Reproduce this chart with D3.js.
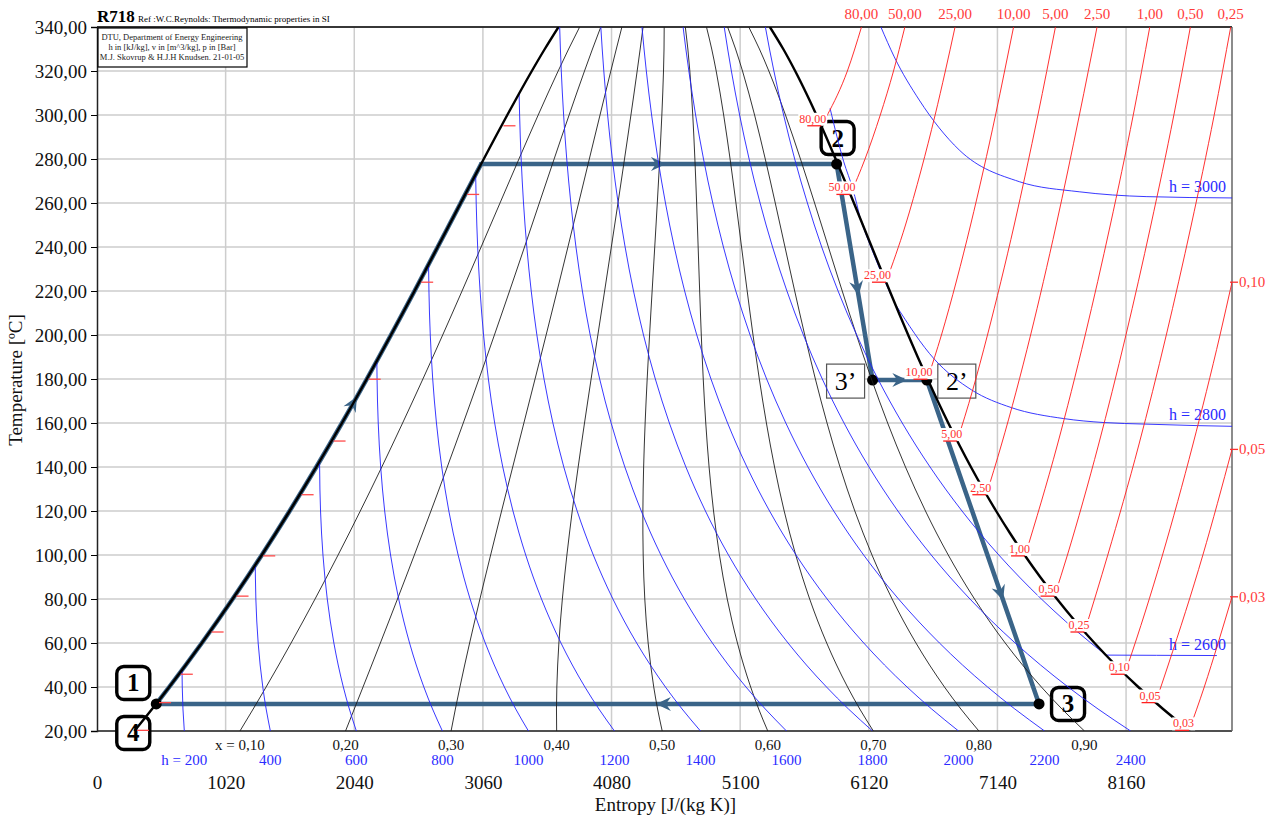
<!DOCTYPE html>
<html>
<head>
<meta charset="utf-8">
<script src="https://cdn.jsdelivr.net/npm/d3@7"></script>
<style>
  body { margin: 0; background: #fff; }
  text { font-family: "Liberation Serif", "Times New Roman", serif; }
</style>
</head>
<body>
<div id="wrapper"></div>
<script>
// Saturation table for water (T in C, s in J/(kg K), h in kJ/kg)
const satT  = [20, 30, 40, 50, 60, 70, 80, 90, 100, 110, 120, 130, 140, 150, 160, 170, 180,
               190, 200, 210, 220, 230, 240, 250, 260, 270, 280, 290, 300, 310, 320, 330, 340]
const satSf = [296.6, 436.9, 572.5, 703.8, 831.2, 954.9, 1075.3, 1192.5, 1306.9, 1418.5, 1527.6,
               1634.4, 1739.1, 1841.8, 1942.7, 2041.9, 2139.6, 2235.9, 2330.9, 2424.8, 2517.8,
               2609.9, 2701.5, 2792.7, 2883.8, 2975.1, 3066.8, 3159.4, 3253.4, 3349.3, 3448.0,
               3550.7, 3659.4]
const satSg = [8667.2, 8453.3, 8257.0, 8076.3, 7909.6, 7755.3, 7612.2, 7479.1, 7354.9, 7238.7,
               7129.6, 7026.9, 6929.9, 6837.9, 6750.2, 6666.3, 6585.7, 6507.9, 6432.3, 6358.5,
               6286.1, 6214.6, 6143.7, 6073.0, 6001.9, 5930.1, 5857.1, 5782.1, 5704.5, 5623.0,
               5536.2, 5441.7, 5335.7]
const satHf = [83.96, 125.79, 167.57, 209.33, 251.13, 292.98, 334.91, 376.92, 419.04, 461.30,
               503.71, 546.31, 589.13, 632.20, 675.55, 719.21, 763.22, 807.62, 852.45, 897.76,
               943.62, 990.12, 1037.3, 1085.4, 1134.4, 1184.5, 1236.0, 1289.1, 1344.0, 1401.3,
               1461.5, 1525.3, 1594.2]
const satHg = [2538.1, 2556.3, 2574.3, 2592.1, 2609.6, 2626.8, 2643.7, 2660.1, 2676.1, 2691.5,
               2706.3, 2720.5, 2733.9, 2746.5, 2758.1, 2768.7, 2778.2, 2786.4, 2793.2, 2798.5,
               2802.1, 2804.0, 2803.8, 2801.5, 2796.6, 2789.7, 2779.6, 2766.2, 2749.0, 2727.3,
               2700.1, 2665.9, 2622.0]

// quality lines
const qualities = [0.1, 0.2, 0.3, 0.4, 0.5, 0.6, 0.7, 0.8, 0.9]
const qualityLabels = ['x = 0,10', '0,20', '0,30', '0,40', '0,50', '0,60', '0,70', '0,80', '0,90']

// constant enthalpy lines, wet region
const enthalpies = [200, 400, 600, 800, 1000, 1200, 1400, 1600, 1800, 2000, 2200, 2400, 2600, 2800]
const enthalpyLabels = ['h = 200', '400', '600', '800', '1000', '1200', '1400', '1600', '1800',
                        '2000', '2200', '2400']

// constant enthalpy lines, superheated region [s, T]
const h3000Sup = [[6216, 340], [6322, 326.4], [6520, 306.8], [6837, 284.1], [7313, 269.7],
                  [7788, 265.1], [8319, 262.9], [9000, 262.3]]
const h2800SupHigh = [[5813, 303], [5920, 279], [5995, 266], [6052, 253]]
const h2800SupLow = [[6329, 214.1], [6640, 189], [6936, 175], [7250, 167], [7666, 162],
                     [7985, 160.2], [8310, 159.5], [8726, 158.8], [9000, 158.5]]
const h2600Sup = [[8001, 54.5], [8400, 54.4], [8880, 54.3]]
const supLines = [h3000Sup, h2800SupLow, h2600Sup]
const supLabels = ['h = 3000', 'h = 2800', 'h = 2600']

// isobars [s, T], first point on the saturated vapour line
const isoP80   = [[5743, 295.1], [5791, 300], [5950, 320], [6062, 340]]
const isoP50   = [[5974, 263.9], [6090, 280], [6211, 300], [6316, 320], [6406, 340]]
const isoP25   = [[6256, 224.0], [6411, 250], [6535, 275], [6646, 300], [6727, 320], [6804, 340]]
const isoP10   = [[6585, 179.9], [6696, 200], [6817, 225], [6927, 250], [7029, 275], [7125, 300],
                  [7197, 320], [7268, 340]]
const isoP5    = [[6821, 151.8], [6944, 175], [7061, 200], [7273, 250], [7461, 300], [7600, 340]]
const isoP2_5  = [[7052, 127.4], [7171, 150], [7403, 200], [7606, 250], [7790, 300], [7930, 340]]
const isoP1    = [[7359, 99.6], [7615, 150], [7836, 200], [8035, 250], [8217, 300], [8348, 340]]
const isoP0_5  = [[7593, 81.3], [7695, 100], [7941, 150], [8159, 200], [8357, 250], [8539, 300],
                  [8670, 340]]
const isoP0_25 = [[7830, 65.0], [8015, 100], [8261, 150], [8479, 200], [8677, 250], [8859, 300],
                  [8990, 340]]
const isoP0_1  = [[8149, 45.8], [8174, 50], [8449, 100], [8689, 150], [8905, 200], [9000, 224]]
const isoP0_05 = [[8394, 32.9], [8494, 50], [8769, 100], [9000, 148]]
const isoP0_03 = [[8660, 20.3], [8780, 40], [8890, 60], [9000, 81]]
const isobars = [isoP80, isoP50, isoP25, isoP10, isoP5, isoP2_5, isoP1, isoP0_5, isoP0_25,
                 isoP0_1, isoP0_05, isoP0_03]
const pressureLabels = ['80,00', '50,00', '25,00', '10,00', '5,00', '2,50', '1,00', '0,50', '0,25',
                        '0,10', '0,05', '0,03']

// cycle states: 1/4, liquid end, 2, 3', 2', 3
const cycleS = [470, 3046, 5865, 6150, 6580, 7470]
const cycleT = [32.3, 277.7, 277.7, 179.5, 179.5, 32.3]
const arrowSegs = [[1, 2, 0.52], [2, 3, 0.61], [3, 4, 0.64], [4, 5, 0.68], [5, 0, 0.434]]
const liquidArrowT = 172
const stateLabels = [
  {text: '1', i: 0, dx: -23, dy: -21, bold: true},
  {text: '4', i: 0, dx: -23, dy: 29, bold: true},
  {text: '2', i: 2, dx: 1, dy: -26, bold: true},
  {text: '3', i: 5, dx: 29, dy: 0, bold: true},
  {text: '3\u2019', i: 3, dx: -27, dy: 1, bold: false},
  {text: '2\u2019', i: 4, dx: 30, dy: 1, bold: false}
]

const xTicks = [0, 1020, 2040, 3060, 4080, 5100, 6120, 7140, 8160]
const yTicks = [20, 40, 60, 80, 100, 120, 140, 160, 180, 200, 220, 240, 260, 280, 300, 320, 340]

function drawChart() {
  let dimensions = {
    width: 1271,
    height: 819,
    margin: { top: 27, right: 39, bottom: 88, left: 97 }
  }
  dimensions.boundedWidth = dimensions.width - dimensions.margin.left - dimensions.margin.right
  dimensions.boundedHeight = dimensions.height - dimensions.margin.top - dimensions.margin.bottom

  const wrapper = d3.select('#wrapper')
    .append('svg')
      .attr('width', dimensions.width)
      .attr('height', dimensions.height)

  const bounds = wrapper.append('g')
    .attr('transform', `translate(${dimensions.margin.left},${dimensions.margin.top})`)

  const xScale = d3.scaleLinear().domain([0, 9000]).range([0, dimensions.boundedWidth])
  const yScale = d3.scaleLinear().domain([20, 340]).range([dimensions.boundedHeight, 0])
  // lines running up in temperature
  const lineT = d3.line().x(d => xScale(d[0])).y(d => yScale(d[1])).curve(d3.curveMonotoneY)
  // lines running right in entropy
  const lineS = d3.line().x(d => xScale(d[0])).y(d => yScale(d[1])).curve(d3.curveMonotoneX)
  const line = d3.line().x(d => xScale(d[0])).y(d => yScale(d[1]))

  const interp = (arr, T) => {
    let i = d3.bisectRight(satT, T) - 1
    i = Math.max(0, Math.min(satT.length - 2, i))
    const u = (T - satT[i]) / (satT[i + 1] - satT[i])
    return arr[i] + u * (arr[i + 1] - arr[i])
  }

  wrapper.append('defs').append('clipPath').attr('id', 'plotclip')
    .append('rect')
      .attr('x', dimensions.margin.left).attr('y', dimensions.margin.top)
      .attr('width', dimensions.boundedWidth).attr('height', dimensions.boundedHeight)

  // grid
  const grid = bounds.append('g').attr('stroke', '#cdcdcd').attr('stroke-width', 1.5)
  grid.selectAll('.hg').data(yTicks).enter().append('line')
    .attr('x1', 0).attr('x2', dimensions.boundedWidth)
    .attr('y1', d => yScale(d)).attr('y2', d => yScale(d))
  grid.selectAll('.vg').data(xTicks.slice(1)).enter().append('line')
    .attr('y1', 0).attr('y2', dimensions.boundedHeight)
    .attr('x1', d => xScale(d)).attr('x2', d => xScale(d))

  const layer = wrapper.append('g').attr('clip-path', 'url(#plotclip)')
    .append('g')
    .attr('transform', `translate(${dimensions.margin.left},${dimensions.margin.top})`)

  // quality lines
  const qualityData = qualities.map(q => satT.map((T, i) => [satSf[i] + q * (satSg[i] - satSf[i]), T]))
  layer.selectAll('.qline').data(qualityData).enter().append('path')
    .attr('d', lineT).attr('fill', 'none').attr('stroke', '#1e1e1e').attr('stroke-width', 0.9)

  // enthalpy lines in wet region
  const twoPhase = h => {
    const pieces = []
    let cur = []
    const rows = satT.map((T, i) => {
      const x = (h - satHf[i]) / (satHg[i] - satHf[i])
      return {T, x, sf: satSf[i], sg: satSg[i], s: satSf[i] + x * (satSg[i] - satSf[i])}
    })
    const inside = r => r.x >= 0 && r.x <= 1
    rows.forEach((r, i) => {
      if (i > 0) {
        const p = rows[i - 1]
        if (inside(p) !== inside(r)) {
          const out = inside(p) ? r : p
          const b = out.x < 0 ? 0 : 1
          const u = (b - p.x) / (r.x - p.x)
          const sb = b === 0 ? p.sf + u * (r.sf - p.sf) : p.sg + u * (r.sg - p.sg)
          cur.push([sb, p.T + u * (r.T - p.T)])
          if (!inside(r)) { pieces.push(cur); cur = [] }
        }
      }
      if (inside(r)) cur.push([r.s, r.T])
    })
    if (cur.length) pieces.push(cur)
    return pieces
  }
  const hPieces = enthalpies.map(twoPhase)
  const blue = '#2323ff'
  hPieces.forEach(pcs => pcs.forEach(pc => {
    layer.append('path').attr('d', lineT(pc)).attr('fill', 'none')
      .attr('stroke', blue).attr('stroke-width', 0.9)
  }))
  ;[h3000Sup, h2800SupHigh, h2800SupLow, h2600Sup].forEach(l => {
    layer.append('path').attr('d', lineS(l)).attr('fill', 'none')
      .attr('stroke', blue).attr('stroke-width', 0.9)
  })

  // isobars
  layer.selectAll('.iso').data(isobars).enter().append('path')
    .attr('d', lineS).attr('fill', 'none').attr('stroke', '#ff1a1a').attr('stroke-width', 0.9)

  // saturation dome
  const liquidLine = satT.map((T, i) => [satSf[i], T])
  const vapourLine = satT.map((T, i) => [satSg[i], T])
  ;[liquidLine, vapourLine].forEach(l => {
    layer.append('path').attr('d', lineT(l)).attr('fill', 'none')
      .attr('stroke', '#000').attr('stroke-width', 2.4)
  })

  // pressure ticks on liquid line
  isobars.forEach(iso => {
    const T = iso[0][1]
    const px = xScale(interp(satSf, T)), py = yScale(T)
    layer.append('line').attr('x1', px + 2).attr('x2', px + 14).attr('y1', py).attr('y2', py)
      .attr('stroke', '#ff4a4a').attr('stroke-width', 1.3)
  })

  // pressure labels on vapour line
  isobars.forEach((iso, i) => {
    const px = xScale(iso[0][0]), py = yScale(iso[0][1])
    const g = layer.append('g')
    const t = g.append('text').attr('x', px + 5).attr('y', py - 3)
      .attr('text-anchor', 'end').attr('font-size', 12).attr('fill', '#ff3030')
      .text(pressureLabels[i])
    const bb = t.node().getBBox()
    g.insert('rect', 'text').attr('x', bb.x - 1).attr('y', bb.y + 1)
      .attr('width', bb.width + 2).attr('height', bb.height - 1).attr('fill', '#fff')
    g.append('line').attr('x1', px - 14).attr('x2', px).attr('y1', py).attr('y2', py)
      .attr('stroke', '#ff2020').attr('stroke-width', 1.3)
  })

  // frame
  const frame = bounds.append('g')
  frame.append('line').attr('x1', 0).attr('x2', dimensions.boundedWidth).attr('y1', 0).attr('y2', 0)
    .attr('stroke', '#000').attr('stroke-width', 1.5)
  frame.append('line').attr('x1', 0).attr('x2', dimensions.boundedWidth)
    .attr('y1', dimensions.boundedHeight).attr('y2', dimensions.boundedHeight)
    .attr('stroke', '#222').attr('stroke-width', 1.5)
  frame.append('line').attr('x1', dimensions.boundedWidth).attr('x2', dimensions.boundedWidth)
    .attr('y1', 0).attr('y2', dimensions.boundedHeight)
    .attr('stroke', '#666').attr('stroke-width', 1.5)

  // axes
  const yAxis = bounds.append('g')
    .call(d3.axisLeft(yScale).tickValues(yTicks).tickSize(6).tickPadding(4)
      .tickFormat(d => d3.format('.2f')(d).replace('.', ',')))
  yAxis.attr('font-family', '"Liberation Serif", serif').attr('font-size', 19)
  yAxis.selectAll('text').attr('fill', '#111')
  yAxis.select('.domain').attr('stroke', '#222').attr('stroke-width', 1.5)

  const xAxis = bounds.append('g')
    .attr('transform', `translate(0,${dimensions.boundedHeight})`)
    .call(d3.axisBottom(xScale).tickValues(xTicks).tickSize(0).tickPadding(45).tickFormat(d3.format('d')))
  xAxis.attr('font-family', '"Liberation Serif", serif').attr('font-size', 19)
  xAxis.select('.domain').remove()
  xAxis.selectAll('text').attr('fill', '#111')

  // bottom labels of quality and enthalpy lines
  bounds.selectAll('.qlab').data(qualityData).enter().append('text')
    .attr('x', d => xScale(d[0][0])).attr('y', dimensions.boundedHeight + 19)
    .attr('text-anchor', 'middle').attr('font-size', 15).attr('fill', '#111')
    .text((d, i) => qualityLabels[i])
  bounds.selectAll('.hlab').data(enthalpyLabels).enter().append('text')
    .attr('x', (d, i) => xScale(hPieces[i][0][0][0])).attr('y', dimensions.boundedHeight + 34)
    .attr('text-anchor', 'middle').attr('font-size', 15).attr('fill', '#2b2bff')
    .text(d => d)

  // superheated enthalpy labels
  supLines.forEach((l, i) => {
    const last = l[l.length - 1]
    bounds.append('text').attr('x', dimensions.boundedWidth - 6).attr('y', yScale(last[1]) - 6)
      .attr('text-anchor', 'end').attr('font-size', 16).attr('fill', '#2b2bff').text(supLabels[i])
  })

  // isobar end labels
  isobars.forEach((iso, i) => {
    const last = iso[iso.length - 1]
    if (last[1] >= 340) {
      bounds.append('text').attr('x', xScale(last[0])).attr('y', -8)
        .attr('text-anchor', 'middle').attr('font-size', 15).attr('fill', '#ff3a3a')
        .text(pressureLabels[i])
    } else {
      const py = yScale(last[1])
      bounds.append('line').attr('x1', dimensions.boundedWidth - 2).attr('x2', dimensions.boundedWidth + 6)
        .attr('y1', py).attr('y2', py).attr('stroke', '#ff3030').attr('stroke-width', 1.3)
      bounds.append('text').attr('x', dimensions.boundedWidth + 7).attr('y', py + 5)
        .attr('font-size', 15).attr('fill', '#ff3a3a').text(pressureLabels[i])
    }
  })

  // cycle
  const cycleColor = '#3a6488'
  const pt = i => [cycleS[i], cycleT[i]]
  const liquidPart = liquidLine.filter(d => d[1] > cycleT[0] && d[1] < cycleT[1])
  const liquidPath = [pt(0), ...liquidPart, pt(1)]
  const restPath = [pt(1), pt(2), pt(3), pt(4), pt(5), pt(0)]
  bounds.append('path').attr('d', lineT(liquidPath)).attr('fill', 'none')
    .attr('stroke', cycleColor).attr('stroke-width', 4.5).attr('stroke-linecap', 'round')
  bounds.append('path').attr('d', line(restPath)).attr('fill', 'none')
    .attr('stroke', cycleColor).attr('stroke-width', 4.5).attr('stroke-linejoin', 'round')
    .attr('stroke-linecap', 'round')

  const arrow = (x, y, ang) => {
    bounds.append('path').attr('d', 'M0,0 L-15,-7 L-10,0 L-15,7 Z')
      .attr('transform', `translate(${x},${y}) rotate(${ang * 180 / Math.PI})`)
      .attr('fill', cycleColor)
  }
  arrowSegs.forEach(([a, b, t]) => {
    const x1 = xScale(cycleS[a]), y1 = yScale(cycleT[a])
    const x2 = xScale(cycleS[b]), y2 = yScale(cycleT[b])
    arrow(x1 + t * (x2 - x1), y1 + t * (y2 - y1), Math.atan2(y2 - y1, x2 - x1))
  })
  {
    const ax = xScale(interp(satSf, liquidArrowT)), ay = yScale(liquidArrowT)
    const bx = xScale(interp(satSf, liquidArrowT - 8)), by = yScale(liquidArrowT - 8)
    arrow(ax, ay, Math.atan2(ay - by, ax - bx))
  }

  // state dots
  bounds.selectAll('.dot').data([0, 2, 3, 4, 5]).enter().append('circle')
    .attr('cx', i => xScale(cycleS[i])).attr('cy', i => yScale(cycleT[i]))
    .attr('r', 5.5).attr('fill', '#000')

  // state label boxes
  stateLabels.forEach(l => {
    const cx = xScale(cycleS[l.i]) + l.dx, cy = yScale(cycleT[l.i]) + l.dy
    if (l.bold) {
      bounds.append('rect').attr('x', cx - 16.5).attr('y', cy - 16.5).attr('width', 33).attr('height', 33)
        .attr('rx', 7).attr('fill', '#fff').attr('stroke', '#000').attr('stroke-width', 3.4)
      bounds.append('text').attr('x', cx).attr('y', cy + 8.5).attr('text-anchor', 'middle')
        .attr('font-size', 25).attr('font-weight', 'bold').text(l.text)
    } else {
      bounds.append('rect').attr('x', cx - 19).attr('y', cy - 17).attr('width', 38).attr('height', 34)
        .attr('fill', '#fff').attr('stroke', '#555').attr('stroke-width', 1.2)
      bounds.append('text').attr('x', cx).attr('y', cy + 9).attr('text-anchor', 'middle')
        .attr('font-size', 26).text(l.text)
    }
  })

  // titles
  wrapper.append('text').attr('x', dimensions.width / 2 + 30).attr('y', 811)
    .attr('text-anchor', 'middle').attr('font-size', 19).attr('fill', '#111')
    .text('Entropy [J/(kg K)]')
  wrapper.append('text').attr('transform', 'translate(22,380) rotate(-90)')
    .attr('text-anchor', 'middle').attr('font-size', 19).attr('fill', '#111')
    .text('Temperature [\u00baC]')

  wrapper.append('text').attr('x', 97).attr('y', 22).attr('font-size', 17)
    .attr('font-weight', 'bold').text('R718')
  wrapper.append('text').attr('x', 138).attr('y', 22).attr('font-size', 9)
    .text('Ref :W.C.Reynolds: Thermodynamic properties in SI')

  const info = wrapper.append('g')
  info.append('rect').attr('x', 98).attr('y', 28).attr('width', 149).attr('height', 39)
    .attr('fill', '#fff').attr('stroke', '#000').attr('stroke-width', 1.2)
  ;['DTU, Department of Energy Engineering', 'h in [kJ/kg], v in [m^3/kg], p in [Bar]',
    'M.J. Skovrup & H.J.H Knudsen. 21-01-05'].forEach((t, i) => {
    info.append('text').attr('x', 172).attr('y', 40 + i * 10).attr('text-anchor', 'middle')
      .attr('font-size', 8.5).attr('fill', '#222').text(t)
  })
}

drawChart()
</script>
</body>
</html>
